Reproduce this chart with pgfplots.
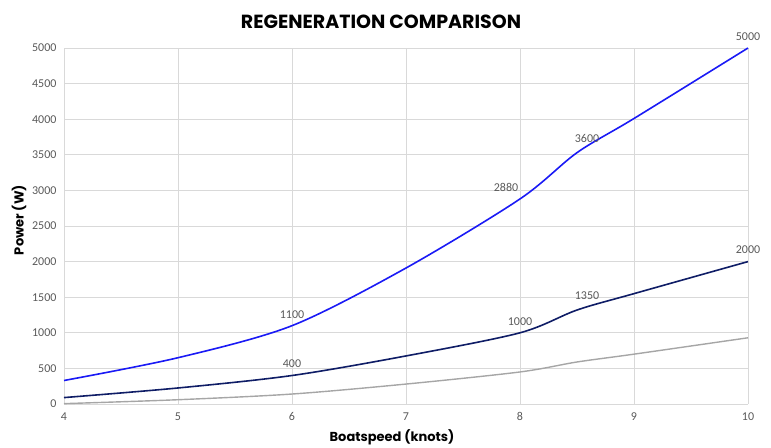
\documentclass[border=0pt]{standalone}
\usepackage{pgfplots}
\pgfplotsset{compat=1.18}
\usepackage{fontspec}
\setmainfont{Carlito}
\newfontfamily\titlefont{Poppins}
\definecolor{cblue}{HTML}{1A1AF5}
\definecolor{cnavy}{HTML}{0F1D66}
\definecolor{cgray}{HTML}{A6A6A6}
\definecolor{ctick}{HTML}{595959}
\definecolor{cgrid}{HTML}{D9D9D9}
\begin{document}
\begin{tikzpicture}[x=1pt,y=1pt]
\path (0,0) rectangle (771,445);
\node[font=\titlefont\bfseries\fontsize{19}{22}\selectfont] at (381,423) {REGENERATION COMPARISON};
\node[font=\titlefont\bfseries\fontsize{13}{15}\selectfont] at (392,8) {Boatspeed (knots)};
\node[font=\titlefont\bfseries\fontsize{13}{15}\selectfont, rotate=90] at (19,225) {Power (W)};
\begin{axis}[
  at={(64pt,41pt)}, anchor=south west,
  scale only axis, width=684pt, height=356pt,
  xmin=4, xmax=10, ymin=0, ymax=5000,
  xtick={4,...,10}, ytick={0,500,...,5000},
  grid=major, major grid style={cgrid, line width=0.8pt},
  axis line style={cgrid, line width=0.8pt},
  axis x line*=bottom, axis y line*=left,
  tick style={draw=none},
  ticklabel style={font=\fontsize{12}{14}\selectfont, text=ctick},
  xticklabel style={yshift=-5pt},
  yticklabel style={xshift=-4pt, /pgf/number format/1000 sep={}},
  /pgf/number format/assume math mode=true,
  scaled y ticks=false,
  clip=false,
  nodes near coords style={font=\fontsize{12}{14}\selectfont, text=ctick, anchor=south, yshift=4pt},
]
\addplot[cgray, line width=1.4pt, smooth] coordinates {(4,5) (5,60) (6,140) (7,280) (8,450) (8.5,590) (9,700) (10,930)};
\addplot[cnavy, line width=1.6pt, smooth] coordinates {(4,90) (5,225) (6,400) (7,675) (8,1000) (8.5,1320) (9,1550) (10,2000)};
\addplot[cblue, line width=1.6pt, smooth] coordinates {(4,330) (5,650) (6,1100) (7,1910) (8,2880) (8.5,3530) (9,4010) (10,5000)};
\addplot[draw=none, mark=none, nodes near coords, point meta=explicit symbolic] coordinates {(6,1100)[1100] (10,5000)[5000] (6,400)[400] (8,1000)[1000] (10,2000)[2000]};
\addplot[draw=none, mark=none, nodes near coords, point meta=explicit symbolic, nodes near coords style={xshift=10pt, yshift=3pt}] coordinates {(8.5,3530)[3600] (8.5,1320)[1350]};
\addplot[draw=none, mark=none, nodes near coords, point meta=explicit symbolic, nodes near coords style={xshift=-14pt}] coordinates {(8,2880)[2880]};
\end{axis}
\end{tikzpicture}
\end{document}
